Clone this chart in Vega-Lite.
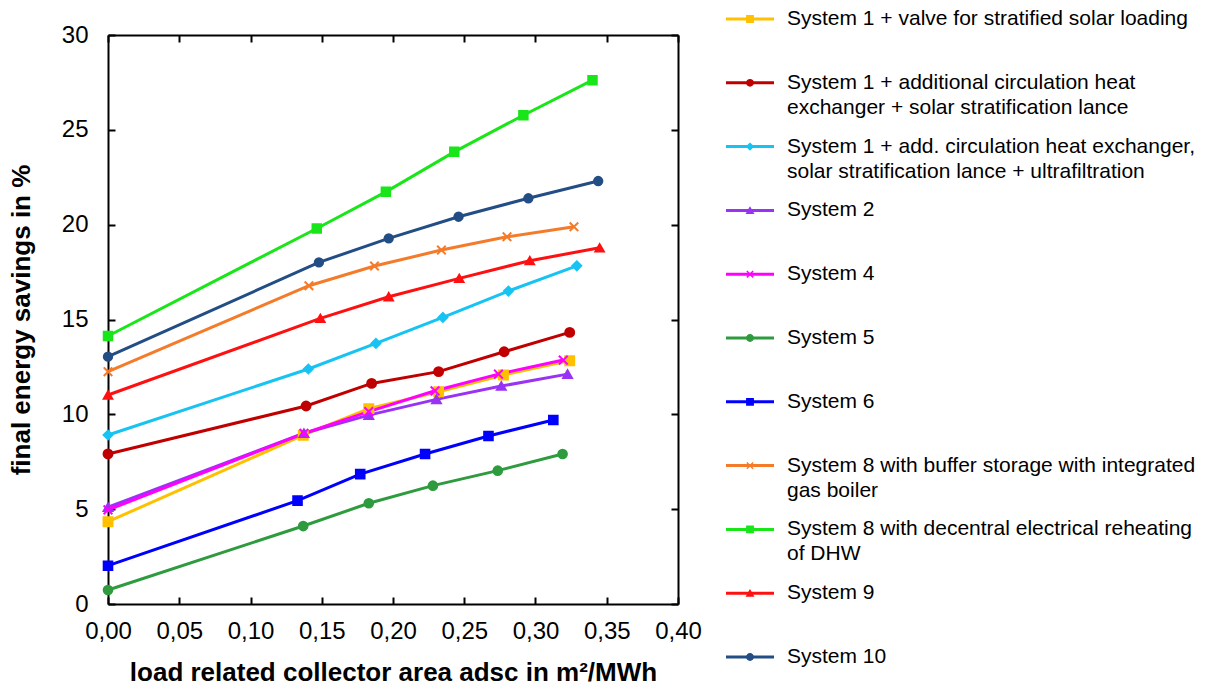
{
  "$schema": "https://vega.github.io/schema/vega-lite/v6.json",
  "padding": {"left": 8, "top": 0, "right": 0, "bottom": 0},
  "background": "white",
  "spacing": 0,
  "config": {
    "font": "Liberation Sans",
    "view": {"stroke": null},
    "axis": {"grid": false, "domainColor": "black", "domainWidth": 2, "tickColor": "black", "tickWidth": 2, "tickSize": -7, "labelColor": "black", "titleColor": "black", "labelFlush": false, "labelOverlap": false}
  },
  "datasets": {
    "series": [
      {"system": "System 1 + valve for stratified solar loading", "x": 0, "y": 4.34},
      {"system": "System 1 + valve for stratified solar loading", "x": 0.137, "y": 8.9},
      {"system": "System 1 + valve for stratified solar loading", "x": 0.183, "y": 10.3},
      {"system": "System 1 + valve for stratified solar loading", "x": 0.232, "y": 11.19},
      {"system": "System 1 + valve for stratified solar loading", "x": 0.2775, "y": 12.07},
      {"system": "System 1 + valve for stratified solar loading", "x": 0.324, "y": 12.83},
      {"system": "System 1 + additional circulation heat exchanger + solar stratification lance", "x": 0, "y": 7.91},
      {"system": "System 1 + additional circulation heat exchanger + solar stratification lance", "x": 0.139, "y": 10.44},
      {"system": "System 1 + additional circulation heat exchanger + solar stratification lance", "x": 0.185, "y": 11.63},
      {"system": "System 1 + additional circulation heat exchanger + solar stratification lance", "x": 0.232, "y": 12.25},
      {"system": "System 1 + additional circulation heat exchanger + solar stratification lance", "x": 0.278, "y": 13.3},
      {"system": "System 1 + additional circulation heat exchanger + solar stratification lance", "x": 0.324, "y": 14.32},
      {"system": "System 1 + add. circulation heat exchanger, solar stratification lance + ultrafiltration", "x": 0, "y": 8.91},
      {"system": "System 1 + add. circulation heat exchanger, solar stratification lance + ultrafiltration", "x": 0.1406, "y": 12.39},
      {"system": "System 1 + add. circulation heat exchanger, solar stratification lance + ultrafiltration", "x": 0.188, "y": 13.74},
      {"system": "System 1 + add. circulation heat exchanger, solar stratification lance + ultrafiltration", "x": 0.235, "y": 15.11},
      {"system": "System 1 + add. circulation heat exchanger, solar stratification lance + ultrafiltration", "x": 0.281, "y": 16.5},
      {"system": "System 1 + add. circulation heat exchanger, solar stratification lance + ultrafiltration", "x": 0.329, "y": 17.83},
      {"system": "System 2", "x": 0, "y": 5.1},
      {"system": "System 2", "x": 0.1375, "y": 9.0},
      {"system": "System 2", "x": 0.183, "y": 9.96},
      {"system": "System 2", "x": 0.2305, "y": 10.79},
      {"system": "System 2", "x": 0.276, "y": 11.49},
      {"system": "System 2", "x": 0.3225, "y": 12.12},
      {"system": "System 4", "x": 0, "y": 4.96},
      {"system": "System 4", "x": 0.1375, "y": 9.0},
      {"system": "System 4", "x": 0.183, "y": 10.14},
      {"system": "System 4", "x": 0.2295, "y": 11.24},
      {"system": "System 4", "x": 0.274, "y": 12.12},
      {"system": "System 4", "x": 0.3195, "y": 12.86},
      {"system": "System 5", "x": 0, "y": 0.74},
      {"system": "System 5", "x": 0.137, "y": 4.11},
      {"system": "System 5", "x": 0.183, "y": 5.31},
      {"system": "System 5", "x": 0.228, "y": 6.24},
      {"system": "System 5", "x": 0.2735, "y": 7.03},
      {"system": "System 5", "x": 0.319, "y": 7.91},
      {"system": "System 6", "x": 0, "y": 2.02},
      {"system": "System 6", "x": 0.133, "y": 5.45},
      {"system": "System 6", "x": 0.177, "y": 6.85},
      {"system": "System 6", "x": 0.2225, "y": 7.91},
      {"system": "System 6", "x": 0.267, "y": 8.86},
      {"system": "System 6", "x": 0.3125, "y": 9.7},
      {"system": "System 8 with buffer storage with integrated gas boiler", "x": 0, "y": 12.25},
      {"system": "System 8 with buffer storage with integrated gas boiler", "x": 0.141, "y": 16.78},
      {"system": "System 8 with buffer storage with integrated gas boiler", "x": 0.187, "y": 17.82},
      {"system": "System 8 with buffer storage with integrated gas boiler", "x": 0.234, "y": 18.66},
      {"system": "System 8 with buffer storage with integrated gas boiler", "x": 0.28, "y": 19.36},
      {"system": "System 8 with buffer storage with integrated gas boiler", "x": 0.327, "y": 19.89},
      {"system": "System 8 with decentral electrical reheating of DHW", "x": 0, "y": 14.13},
      {"system": "System 8 with decentral electrical reheating of DHW", "x": 0.1465, "y": 19.8},
      {"system": "System 8 with decentral electrical reheating of DHW", "x": 0.195, "y": 21.73},
      {"system": "System 8 with decentral electrical reheating of DHW", "x": 0.243, "y": 23.84},
      {"system": "System 8 with decentral electrical reheating of DHW", "x": 0.2915, "y": 25.77},
      {"system": "System 8 with decentral electrical reheating of DHW", "x": 0.34, "y": 27.62},
      {"system": "System 9", "x": 0, "y": 11.02},
      {"system": "System 9", "x": 0.149, "y": 15.06},
      {"system": "System 9", "x": 0.197, "y": 16.2},
      {"system": "System 9", "x": 0.2465, "y": 17.17},
      {"system": "System 9", "x": 0.296, "y": 18.1},
      {"system": "System 9", "x": 0.345, "y": 18.78},
      {"system": "System 10", "x": 0, "y": 13.04},
      {"system": "System 10", "x": 0.148, "y": 18.01},
      {"system": "System 10", "x": 0.197, "y": 19.28},
      {"system": "System 10", "x": 0.246, "y": 20.42},
      {"system": "System 10", "x": 0.295, "y": 21.39},
      {"system": "System 10", "x": 0.344, "y": 22.3}
    ],
    "legend": [
      {"order": 0, "system": "System 1 + valve for stratified solar loading", "label": "System 1 + valve for stratified solar loading"},
      {"order": 1, "system": "System 1 + additional circulation heat exchanger + solar stratification lance", "label": "System 1 + additional circulation heat\nexchanger + solar stratification lance"},
      {"order": 2, "system": "System 1 + add. circulation heat exchanger, solar stratification lance + ultrafiltration", "label": "System 1 + add. circulation heat exchanger,\nsolar stratification lance + ultrafiltration"},
      {"order": 3, "system": "System 2", "label": "System 2"},
      {"order": 4, "system": "System 4", "label": "System 4"},
      {"order": 5, "system": "System 5", "label": "System 5"},
      {"order": 6, "system": "System 6", "label": "System 6"},
      {"order": 7, "system": "System 8 with buffer storage with integrated gas boiler", "label": "System 8 with buffer storage with integrated\ngas boiler"},
      {"order": 8, "system": "System 8 with decentral electrical reheating of DHW", "label": "System 8 with decentral electrical reheating\nof DHW"},
      {"order": 9, "system": "System 9", "label": "System 9"},
      {"order": 10, "system": "System 10", "label": "System 10"}
    ]
  },
  "hconcat": [
    {
      "width": 570,
      "height": 569,
      "data": {"name": "series"},
      "layer": [
        {
          "mark": {"type": "line", "strokeWidth": 3},
          "encoding": {
            "x": {"field": "x", "type": "quantitative", "scale": {"domain": [0, 0.4], "nice": false, "zero": false},
              "axis": {"orient": "bottom", "values": [0, 0.05, 0.1, 0.15, 0.2, 0.25, 0.3, 0.35, 0.4], "labelExpr": "replace(format(datum.value, '.2f'), '.', ',')", "labelFontSize": 24, "labelPadding": 22, "title": "load related collector area adsc in m²/MWh", "titleFontSize": 26, "titleFontWeight": "bold", "titlePadding": 16}},
            "y": {"field": "y", "type": "quantitative", "scale": {"domain": [0, 30], "nice": false, "zero": false},
              "axis": {"orient": "left", "values": [0, 5, 10, 15, 20, 25, 30], "labelFontSize": 24, "labelPadding": 27, "minExtent": 0, "title": "final energy savings in %", "titleFontSize": 26, "titleFontWeight": "bold", "titlePadding": 27}},
            "color": {"field": "system", "type": "nominal", "legend": null,
              "scale": {"domain": ["System 1 + valve for stratified solar loading", "System 1 + additional circulation heat exchanger + solar stratification lance", "System 1 + add. circulation heat exchanger, solar stratification lance + ultrafiltration", "System 2", "System 4", "System 5", "System 6", "System 8 with buffer storage with integrated gas boiler", "System 8 with decentral electrical reheating of DHW", "System 9", "System 10"],
                "range": ["#FFC000", "#C00000", "#17C3F2", "#9932F5", "#FF00FF", "#2E9B3E", "#0000FF", "#F47B2A", "#19E619", "#FF1010", "#234E85"]}}
          }
        },
        {
          "mark": {"type": "point", "filled": true, "opacity": 1, "strokeWidth": 2},
          "encoding": {
            "x": {"field": "x", "type": "quantitative", "axis": null},
            "y": {"field": "y", "type": "quantitative", "axis": null},
            "color": {"field": "system", "type": "nominal", "legend": null},
            "stroke": {"field": "system", "type": "nominal", "legend": null,
              "scale": {"domain": ["System 1 + valve for stratified solar loading", "System 1 + additional circulation heat exchanger + solar stratification lance", "System 1 + add. circulation heat exchanger, solar stratification lance + ultrafiltration", "System 2", "System 4", "System 5", "System 6", "System 8 with buffer storage with integrated gas boiler", "System 8 with decentral electrical reheating of DHW", "System 9", "System 10"],
                "range": ["#FFC000", "#C00000", "#17C3F2", "#9932F5", "#FF00FF", "#2E9B3E", "#0000FF", "#F47B2A", "#19E619", "#FF1010", "#234E85"]}},
            "shape": {"field": "system", "type": "nominal", "legend": null,
              "scale": {"domain": ["System 1 + valve for stratified solar loading", "System 1 + additional circulation heat exchanger + solar stratification lance", "System 1 + add. circulation heat exchanger, solar stratification lance + ultrafiltration", "System 2", "System 4", "System 5", "System 6", "System 8 with buffer storage with integrated gas boiler", "System 8 with decentral electrical reheating of DHW", "System 9", "System 10"],
                "range": ["square", "circle", "diamond", "triangle-up", "M-1,-1L1,1M-1,1L1,-1", "circle", "square", "M-1,-1L1,1M-1,1L1,-1", "square", "triangle-up", "circle"]}},
            "size": {"field": "system", "type": "nominal", "legend": null,
              "scale": {"domain": ["System 1 + valve for stratified solar loading", "System 1 + additional circulation heat exchanger + solar stratification lance", "System 1 + add. circulation heat exchanger, solar stratification lance + ultrafiltration", "System 2", "System 4", "System 5", "System 6", "System 8 with buffer storage with integrated gas boiler", "System 8 with decentral electrical reheating of DHW", "System 9", "System 10"],
                "range": [80, 70, 90, 100, 200, 70, 80, 200, 80, 100, 70]}}
          }
        },
        {
          "mark": {"type": "point", "opacity": 0},
          "encoding": {
            "x": {"field": "x", "type": "quantitative", "axis": {"orient": "top", "values": [0, 0.05, 0.1, 0.15, 0.2, 0.25, 0.3, 0.35, 0.4], "labels": false, "title": null, "minExtent": 35, "maxExtent": 35}},
            "y": {"field": "y", "type": "quantitative", "axis": {"orient": "right", "values": [0, 5, 10, 15, 20, 25, 30], "labels": false, "title": null, "minExtent": 0, "maxExtent": 0}}
          }
        }
      ],
      "resolve": {"axis": {"x": "independent", "y": "independent"}}
    },
    {
      "width": 500,
      "height": 569,
      "data": {"name": "legend"},
      "encoding": {
        "y": {"field": "order", "type": "quantitative", "scale": {"domain": [0.2508, 9.1693], "reverse": true, "nice": false, "zero": false}, "axis": null}
      },
      "layer": [
        {
          "mark": {"type": "rule", "strokeWidth": 3},
          "encoding": {
            "x": {"datum": 24, "type": "quantitative", "scale": {"domain": [0, 500], "nice": false, "zero": false}, "axis": null},
            "x2": {"datum": 72},
            "color": {"field": "system", "type": "nominal", "legend": null}
          }
        },
        {
          "mark": {"type": "point", "filled": true, "opacity": 1, "strokeWidth": 1.5, "size": 40},
          "encoding": {
            "x": {"datum": 48, "type": "quantitative"},
            "color": {"field": "system", "type": "nominal", "legend": null},
            "stroke": {"field": "system", "type": "nominal", "legend": null},
            "shape": {"field": "system", "type": "nominal", "legend": null}
          }
        },
        {
          "mark": {"type": "text", "align": "left", "baseline": "middle", "fontSize": 21, "lineHeight": 25, "lineBreak": "\n", "color": "black"},
          "encoding": {
            "x": {"datum": 85, "type": "quantitative"},
            "text": {"field": "label"}
          }
        }
      ]
    }
  ]
}
